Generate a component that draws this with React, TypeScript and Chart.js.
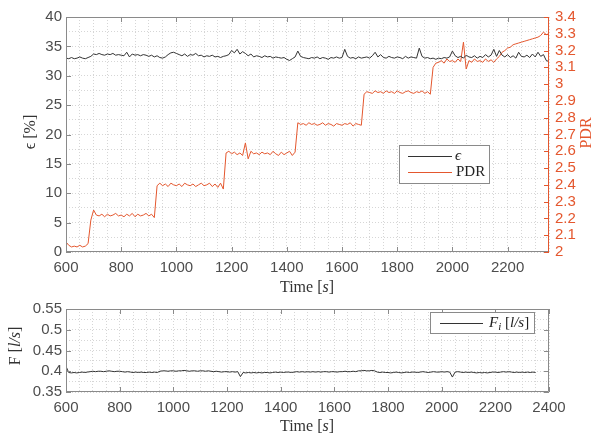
import { useEffect, useRef } from "react";
import { Chart, registerables } from "chart.js";
Chart.register(...registerables);

// ---------- data ----------
const TIME = [
  600, 610, 620, 630, 640, 650, 660, 670, 680, 690,
  700, 710, 720, 730, 740, 750, 760, 770, 780, 790,
  800, 810, 820, 830, 840, 850, 860, 870, 880, 890,
  900, 910, 920, 930, 940, 950, 960, 970, 980, 990,
  1000, 1010, 1020, 1030, 1040, 1050, 1060, 1070, 1080, 1090,
  1100, 1110, 1120, 1130, 1140, 1150, 1160, 1170, 1180, 1190,
  1200, 1210, 1220, 1230, 1240, 1250, 1260, 1270, 1280, 1290,
  1300, 1310, 1320, 1330, 1340, 1350, 1360, 1370, 1380, 1390,
  1400, 1410, 1420, 1430, 1440, 1450, 1460, 1470, 1480, 1490,
  1500, 1510, 1520, 1530, 1540, 1550, 1560, 1570, 1580, 1590,
  1600, 1610, 1620, 1630, 1640, 1650, 1660, 1670, 1680, 1690,
  1700, 1710, 1720, 1730, 1740, 1750, 1760, 1770, 1780, 1790,
  1800, 1810, 1820, 1830, 1840, 1850, 1860, 1870, 1880, 1890,
  1900, 1910, 1920, 1930, 1940, 1950, 1960, 1970, 1980, 1990,
  2000, 2010, 2020, 2030, 2040, 2050, 2060, 2070, 2080, 2090,
  2100, 2110, 2120, 2130, 2140, 2150, 2160, 2170, 2180, 2190,
  2200, 2210, 2220, 2230, 2240, 2250, 2260, 2270, 2280, 2290,
  2300, 2310, 2320, 2330, 2340, 2350,
];

const EPSILON = [
  33.0, 32.9, 33.1, 32.9, 33.0, 33.2, 33.0, 32.9, 33.1, 33.3,
  33.7, 33.6, 33.8, 33.6, 33.5, 33.7, 33.6, 33.8, 33.5, 33.6,
  33.5, 33.4, 34.0, 33.2, 33.7, 33.5, 33.6, 33.4, 33.6, 33.5,
  33.3, 33.5, 33.2, 33.4, 33.1, 33.0, 33.2, 33.6, 33.9, 34.0,
  33.8, 33.6, 33.4, 33.7, 33.3, 33.6, 33.5, 33.8, 33.4, 33.5,
  33.2, 33.4, 33.3, 33.5, 33.2, 33.3, 33.1, 33.3, 33.4, 33.6,
  34.3, 33.9, 34.5, 33.7, 34.1, 33.8, 33.4, 33.7, 33.2, 33.4,
  33.3, 33.1, 33.4, 33.2, 33.3, 33.0, 33.2, 33.1, 33.0, 33.1,
  32.8, 32.6, 32.9, 33.2, 34.2, 33.3, 33.1, 33.0, 32.9, 33.1,
  33.0, 33.2, 32.9, 33.1, 33.0, 32.8, 33.1, 33.0, 33.2, 33.0,
  33.1, 34.5, 33.3, 33.0, 33.1, 32.9, 33.2, 33.0, 33.1, 33.2,
  33.0, 33.4, 34.0, 33.2, 33.6, 33.1, 33.0, 33.3, 33.1, 33.0,
  33.2, 33.1, 32.9, 33.3, 33.0, 33.2, 33.1, 33.0, 34.7, 33.3,
  33.0, 33.1, 32.9, 33.0, 32.8, 33.0, 32.9, 33.1, 33.0, 33.2,
  34.2, 33.4, 33.1, 33.3, 33.0, 33.5, 33.2, 33.1, 33.4, 33.0,
  33.3, 33.1, 33.6, 33.2, 33.5, 34.5, 33.3, 34.3, 33.5, 33.2,
  33.6, 33.1, 33.4, 33.0, 34.0, 33.3, 33.2, 33.5, 33.1, 33.7,
  33.2, 34.0, 33.3, 33.6, 32.6, 32.4,
];

const PDR = [
  2.06, 2.04, 2.03, 2.035, 2.03, 2.04, 2.03, 2.035, 2.05, 2.19,
  2.25, 2.22, 2.215, 2.225, 2.21, 2.225, 2.215, 2.22, 2.23, 2.215,
  2.22, 2.21, 2.225, 2.215, 2.23, 2.21, 2.225, 2.215, 2.22, 2.23,
  2.215, 2.225, 2.205, 2.395, 2.41, 2.395, 2.405, 2.39, 2.41, 2.40,
  2.395, 2.405, 2.39, 2.41, 2.40, 2.395, 2.405, 2.39, 2.40, 2.41,
  2.395, 2.40, 2.41, 2.39, 2.405, 2.385, 2.41, 2.375, 2.59, 2.60,
  2.585, 2.595, 2.58, 2.59, 2.575, 2.65, 2.555, 2.60, 2.585, 2.59,
  2.58, 2.595, 2.585, 2.59, 2.58, 2.60, 2.585, 2.575, 2.595, 2.58,
  2.59, 2.60, 2.575, 2.595, 2.77, 2.76, 2.765, 2.755, 2.77, 2.76,
  2.765, 2.755, 2.76, 2.77, 2.755, 2.765, 2.76, 2.75, 2.765, 2.76,
  2.755, 2.765, 2.76, 2.77, 2.75, 2.765, 2.76, 2.755, 2.94, 2.955,
  2.95, 2.945, 2.96, 2.95, 2.955, 2.945, 2.96, 2.95, 2.955, 2.945,
  2.96, 2.95, 2.945, 2.955, 2.96, 2.95, 2.945, 2.955, 2.95, 2.96,
  2.945, 2.955, 2.94, 3.10, 3.125, 3.13, 3.14, 3.125, 3.15, 3.135,
  3.14, 3.13, 3.15, 3.135, 3.25, 3.09, 3.14, 3.13, 3.15, 3.135,
  3.14, 3.13, 3.15, 3.135, 3.145, 3.13, 3.15, 3.165, 3.19, 3.20,
  3.215, 3.22, 3.235, 3.24, 3.245, 3.25, 3.255, 3.26, 3.265, 3.27,
  3.275, 3.28, 3.29, 3.31, 3.295, 3.30,
];

const FLOW = [
  0.412, 0.397, 0.396, 0.397, 0.396, 0.397, 0.398, 0.397, 0.398, 0.399,
  0.400, 0.399, 0.400, 0.400, 0.399, 0.400, 0.401, 0.400, 0.399, 0.400,
  0.400, 0.399, 0.398, 0.399, 0.398, 0.397, 0.398, 0.397, 0.398, 0.397,
  0.397, 0.398, 0.397, 0.398, 0.397, 0.400, 0.401, 0.401, 0.400, 0.401,
  0.401, 0.400, 0.401, 0.401, 0.402, 0.401, 0.400, 0.401, 0.401, 0.400,
  0.401, 0.401, 0.400, 0.401, 0.400, 0.399, 0.400, 0.399, 0.398, 0.399,
  0.399, 0.398, 0.399, 0.398, 0.399, 0.387, 0.397, 0.396, 0.397, 0.396,
  0.397, 0.396, 0.397, 0.396, 0.397, 0.397, 0.396, 0.397, 0.398, 0.397,
  0.398, 0.397, 0.398, 0.398, 0.397, 0.398, 0.399, 0.398, 0.399, 0.398,
  0.399, 0.398, 0.399, 0.398, 0.399, 0.398, 0.399, 0.399, 0.398, 0.399,
  0.399, 0.398, 0.399, 0.399, 0.400, 0.399, 0.399, 0.400, 0.399, 0.401,
  0.401, 0.402, 0.401, 0.401, 0.402, 0.401, 0.398, 0.397, 0.398, 0.397,
  0.397, 0.396, 0.397, 0.398, 0.397, 0.396, 0.397, 0.398, 0.397, 0.398,
  0.398, 0.397, 0.398, 0.399, 0.398, 0.397, 0.398, 0.399, 0.398, 0.398,
  0.399, 0.398, 0.399, 0.398, 0.386, 0.398, 0.399, 0.398, 0.397, 0.398,
  0.397, 0.398, 0.397, 0.396, 0.397, 0.396, 0.397, 0.396, 0.397, 0.398,
  0.398, 0.397, 0.398, 0.399, 0.398, 0.399, 0.398, 0.397, 0.398, 0.397,
  0.398, 0.397, 0.398, 0.397, 0.398, 0.397,
];

const TOP_X_LABELS = [600, 800, 1000, 1200, 1400, 1600, 1800, 2000, 2200];
const BOTTOM_X_LABELS = [600, 800, 1000, 1200, 1400, 1600, 1800, 2000, 2200, 2400];
const EPS_LABELS = [0, 5, 10, 15, 20, 25, 30, 35, 40];
const PDR_LABELS = [2, 2.1, 2.2, 2.3, 2.4, 2.5, 2.6, 2.7, 2.8, 2.9, 3, 3.1, 3.2, 3.3, 3.4];
const F_LABELS = [0.35, 0.4, 0.45, 0.5, 0.55];

const EPS_LABEL = "ϵ";
const PDR_LABEL = "PDR";
const F_LABEL = "F_i [l/s]";

// ---------- styles ----------
const RED = "#e4572e";
const DARK = "#333333";
const TICK_COLOR = "#4d4d4d";
const FRAME = "#8a8a8a";
const GRID = "#d6d6d6";
const SANS = '"Liberation Sans", Arial, sans-serif';
const SERIF = '"Liberation Serif", "DejaVu Serif", serif';

type Seg = { t: string; it?: boolean; sub?: boolean };

const TIME_TITLE: Seg[] = [{ t: "Time " }, { t: "[" }, { t: "s", it: true }, { t: "]" }];
const EPS_TITLE: Seg[] = [{ t: "ϵ " }, { t: "[%]" }];
const PDR_TITLE: Seg[] = [{ t: "PDR" }];
const F_TITLE: Seg[] = [{ t: "F " }, { t: "[" }, { t: "l/s", it: true }, { t: "]" }];
const F_LEGEND: Seg[] = [{ t: "F", it: true }, { t: "i", it: true, sub: true }, { t: " [" }, { t: "l/s", it: true }, { t: "]" }];
const EPS_LEGEND: Seg[] = [{ t: "ϵ", it: true }];
const PDR_LEGEND: Seg[] = [{ t: "PDR" }];

function drawRich(ctx: CanvasRenderingContext2D, segs: Seg[], x: number, y: number, size: number, color: string, rot: number, align: "center" | "left") {
  ctx.save();
  ctx.translate(x, y);
  ctx.rotate(rot);
  const fontFor = (s: Seg) => `${s.it ? "italic " : ""}${s.sub ? Math.round(size * 0.7) : size}px ${SERIF}`;
  let w = 0;
  for (const s of segs) {
    ctx.font = fontFor(s);
    w += ctx.measureText(s.t).width;
  }
  let cx = align === "center" ? -w / 2 : 0;
  ctx.textBaseline = "middle";
  ctx.textAlign = "left";
  ctx.fillStyle = color;
  for (const s of segs) {
    ctx.font = fontFor(s);
    ctx.fillText(s.t, cx, s.sub ? size * 0.28 : 0);
    cx += ctx.measureText(s.t).width;
  }
  ctx.restore();
}

const isIn = (v: number, list: number[]) => list.some((m) => Math.abs(m - v) < 1e-6);

// frame + inward ticks + titles + legend
const framePlugin = {
  id: "frameTicks",
  afterDatasetsDraw(chart: any) {
    const { ctx, chartArea: a } = chart;
    ctx.save();
    ctx.lineWidth = 1;
    const tickLen = 5;
    const x = chart.scales.x;
    ctx.strokeStyle = FRAME;
    ctx.beginPath();
    for (const t of x.ticks) {
      if (!t.label) continue;
      const px = Math.round(x.getPixelForValue(t.value)) + 0.5;
      ctx.moveTo(px, a.bottom);
      ctx.lineTo(px, a.bottom - tickLen);
      ctx.moveTo(px, a.top);
      ctx.lineTo(px, a.top + tickLen);
    }
    const y = chart.scales.y;
    for (const t of y.ticks) {
      if (!t.label) continue;
      const py = Math.round(y.getPixelForValue(t.value)) + 0.5;
      ctx.moveTo(a.left, py);
      ctx.lineTo(a.left + tickLen, py);
      if (!chart.scales.y1) {
        ctx.moveTo(a.right, py);
        ctx.lineTo(a.right - tickLen, py);
      }
    }
    ctx.stroke();
    ctx.beginPath();
    ctx.moveTo(a.left + 0.5, a.top + 0.5);
    ctx.lineTo(a.right - 0.5, a.top + 0.5);
    ctx.moveTo(a.left + 0.5, a.top + 0.5);
    ctx.lineTo(a.left + 0.5, a.bottom - 0.5);
    ctx.lineTo(a.right - 0.5, a.bottom - 0.5);
    if (!chart.scales.y1) {
      ctx.moveTo(a.right - 0.5, a.top + 0.5);
      ctx.lineTo(a.right - 0.5, a.bottom - 0.5);
    }
    ctx.stroke();
    const y1 = chart.scales.y1;
    if (y1) {
      ctx.strokeStyle = RED;
      ctx.beginPath();
      ctx.moveTo(a.right - 0.5, a.top);
      ctx.lineTo(a.right - 0.5, a.bottom);
      for (const t of y1.ticks) {
        if (!t.label) continue;
        const py = Math.round(y1.getPixelForValue(t.value)) + 0.5;
        ctx.moveTo(a.right, py);
        ctx.lineTo(a.right - tickLen, py);
      }
      ctx.stroke();
    }
    ctx.restore();
  },
  afterDraw(chart: any, _args: any, opts: any) {
    const ctx = chart.ctx as CanvasRenderingContext2D;
    for (const tt of opts.titles || []) {
      drawRich(ctx, tt.segs, tt.x, tt.y, tt.size, tt.color, tt.rot, "center");
    }
    const lg = opts.legend;
    if (lg) {
      ctx.save();
      ctx.fillStyle = "#ffffff";
      ctx.fillRect(lg.x, lg.y, lg.w, lg.h);
      ctx.strokeStyle = FRAME;
      ctx.lineWidth = 1;
      ctx.strokeRect(lg.x + 0.5, lg.y + 0.5, lg.w, lg.h);
      for (const e of lg.entries) {
        ctx.strokeStyle = e.color;
        ctx.beginPath();
        ctx.moveTo(e.x0, e.y + 0.5);
        ctx.lineTo(e.x1, e.y + 0.5);
        ctx.stroke();
        drawRich(ctx, e.segs, e.tx, e.y, 15, "#222222", 0, "left");
      }
      ctx.restore();
    }
  },
};

const gridOpts = { color: GRID, lineWidth: 1, drawTicks: false };
const borderOpts = { display: false, dash: [1, 2] };

function commonTicks(extra: any) {
  return {
    font: { family: SANS, size: 15 },
    color: TICK_COLOR,
    autoSkip: false,
    maxRotation: 0,
    minRotation: 0,
    maxTicksLimit: 1000,
    ...extra,
  };
}

export default function App() {
  const topRef = useRef<HTMLCanvasElement>(null);
  const botRef = useRef<HTMLCanvasElement>(null);

  useEffect(() => {
    const top = new Chart(topRef.current!, {
      type: "line",
      data: {
        datasets: [
          {
            label: EPS_LABEL,
            data: TIME.map((t, i) => ({ x: t, y: EPSILON[i] })),
            borderColor: DARK,
            borderWidth: 1,
            pointRadius: 0,
            yAxisID: "y",
          },
          {
            label: PDR_LABEL,
            data: TIME.map((t, i) => ({ x: t, y: PDR[i] })),
            borderColor: RED,
            borderWidth: 1,
            pointRadius: 0,
            yAxisID: "y1",
          },
        ],
      },
      options: {
        animation: false,
        responsive: false,
        events: [],
        layout: { padding: { top: 17, left: 0, right: 0, bottom: 0 } },
        plugins: {
          legend: { display: false },
          tooltip: { enabled: false },
          frameTicks: {
            titles: [
              { segs: TIME_TITLE, x: 307, y: 288, size: 16, color: "#333", rot: 0 },
              { segs: EPS_TITLE, x: 31, y: 132, size: 16, color: "#333", rot: -Math.PI / 2 },
              { segs: PDR_TITLE, x: 587, y: 133, size: 16, color: RED, rot: -Math.PI / 2 },
            ],
            legend: {
              x: 399, y: 145, w: 90, h: 38,
              entries: [
                { segs: EPS_LEGEND, color: DARK, x0: 408, x1: 452, y: 156, tx: 455 },
                { segs: PDR_LEGEND, color: RED, x0: 408, x1: 452, y: 172, tx: 456 },
              ],
            },
          },
        } as any,
        scales: {
          x: {
            type: "linear",
            min: 600,
            max: 2350,
            afterFit: (s: any) => { s.height = 44; },
            grid: gridOpts,
            border: borderOpts,
            ticks: commonTicks({ stepSize: 50, padding: 7, callback: (v: any) => (isIn(+v, TOP_X_LABELS) ? String(v) : "") }),
          },
          y: {
            type: "linear",
            position: "left",
            min: 0,
            max: 40,
            afterFit: (s: any) => { s.width = 66; },
            grid: gridOpts,
            border: borderOpts,
            ticks: commonTicks({ stepSize: 2.5, padding: 4, callback: (v: any) => (isIn(+v, EPS_LABELS) ? String(v) : "") }),
          },
          y1: {
            type: "linear",
            position: "right",
            min: 2,
            max: 3.4,
            afterFit: (s: any) => { s.width = 46; },
            grid: { drawOnChartArea: false, drawTicks: false },
            border: { display: false },
            ticks: commonTicks({
              stepSize: 0.1,
              padding: 6,
              color: RED,
              callback: (v: any) => {
                const r = Math.round(+v * 10) / 10;
                return isIn(r, PDR_LABELS) ? String(r) : "";
              },
            }),
          },
        } as any,
      },
      plugins: [framePlugin],
    });

    const bot = new Chart(botRef.current!, {
      type: "line",
      data: {
        datasets: [
          {
            label: F_LABEL,
            data: TIME.map((t, i) => ({ x: t, y: FLOW[i] })),
            borderColor: DARK,
            borderWidth: 1,
            pointRadius: 0,
          },
        ],
      },
      options: {
        animation: false,
        responsive: false,
        events: [],
        layout: { padding: { top: 1, left: 0, right: 46, bottom: 0 } },
        plugins: {
          legend: { display: false },
          tooltip: { enabled: false },
          frameTicks: {
            titles: [
              { segs: TIME_TITLE, x: 307, y: 131, size: 16, color: "#333", rot: 0 },
              { segs: F_TITLE, x: 16, y: 50, size: 16, color: "#333", rot: -Math.PI / 2 },
            ],
            legend: {
              x: 430, y: 16, w: 104, h: 21,
              entries: [{ segs: F_LEGEND, color: DARK, x0: 440, x1: 483, y: 27, tx: 489 }],
            },
          },
        } as any,
        scales: {
          x: {
            type: "linear",
            min: 600,
            max: 2400,
            afterFit: (s: any) => { s.height = 44; },
            grid: gridOpts,
            border: borderOpts,
            ticks: commonTicks({ stepSize: 50, padding: 7, callback: (v: any) => (isIn(+v, BOTTOM_X_LABELS) ? String(v) : "") }),
          },
          y: {
            type: "linear",
            position: "left",
            min: 0.35,
            max: 0.55,
            afterFit: (s: any) => { s.width = 66; },
            grid: gridOpts,
            border: borderOpts,
            ticks: commonTicks({
              stepSize: 0.025,
              padding: 4,
              callback: (v: any) => {
                const r = Math.round(+v * 1000) / 1000;
                return isIn(r, F_LABELS) ? String(r) : "";
              },
            }),
          },
        } as any,
      },
      plugins: [framePlugin],
    });

    return () => {
      top.destroy();
      bot.destroy();
    };
  }, []);

  return (
    <div style={{ position: "absolute", left: 0, top: 0, width: 595, height: 436, background: "#fff" }}>
      <canvas ref={topRef} width={595} height={296} style={{ position: "absolute", left: 0, top: 0, display: "block" }} />
      <canvas ref={botRef} width={595} height={140} style={{ position: "absolute", left: 0, top: 296, display: "block" }} />
    </div>
  );
}
